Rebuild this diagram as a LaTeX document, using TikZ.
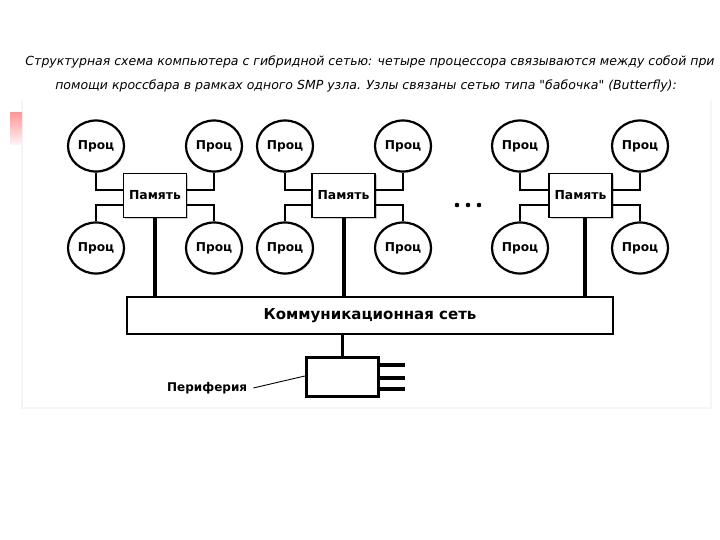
\documentclass[tikz,border=0pt]{standalone}
\usepackage{fontspec}
\setmainfont{DejaVu Sans}
\usetikzlibrary{shapes.geometric,shadows}
\begin{document}
\begin{tikzpicture}[x=1pt,y=-1pt,
  proc/.style={ellipse, draw, line width=2.2pt, minimum width=56pt, minimum height=51pt, inner sep=0pt, fill=white,
    drop shadow={shadow xshift=1.2pt, shadow yshift=-1.2pt, fill=black!35},
    font=\bfseries\fontsize{12.2}{14}\selectfont},
  mem/.style={rectangle, draw, line width=1.8pt, minimum width=63pt, minimum height=44pt, inner sep=0pt, fill=white,
    drop shadow={shadow xshift=1.8pt, shadow yshift=-1.8pt, fill=black!40},
    font=\bfseries\fontsize{12.4}{14}\selectfont},
  netbox/.style={rectangle, draw, line width=1.8pt, minimum width=486pt, minimum height=37pt, inner sep=0pt, fill=white,
    font=\bfseries\fontsize{15}{17}\selectfont},
  perbox/.style={rectangle, draw, line width=3.4pt, minimum width=72pt, minimum height=39pt, inner sep=0pt, fill=white},
  link/.style={line width=1.8pt},
  bus/.style={line width=3.4pt},
  stub/.style={line width=3.2pt},
  titletext/.style={font=\itshape\fontsize{12.5}{15}\selectfont, text=black, inner sep=0pt},
  lbl/.style={font=\bfseries\fontsize{12}{14}\selectfont, inner sep=0pt}
]
\useasboundingbox (0,0) rectangle (720,540);
\fill[white] (0,0) rectangle (720,540);
% faint frame of the pasted picture
\draw[black!4, line width=1.2pt] (22,100) -- (22,408) -- (711,408) -- (711,100);
\shade[top color=red!40, bottom color=red!4] (10,113) rectangle (22,145);

% title
\node[titletext] (t1) at (370,62) {Структурная схема компьютера с гибридной сетью: четыре процессора связываются между собой при};
\node[titletext] (t2) at (366,86) {помощи кроссбара в рамках одного SMP узла. Узлы связаны сетью типа \textquotedbl бабочка\textquotedbl{} (Butterfly):};

% network
\node[netbox] (net) at (370,315.5) {Коммуникационная сеть};

\foreach \i/\xl/\xr/\xm/\xb in {1/96/214/155/155, 2/285/403/343.5/344, 3/520/640/580.5/585} {
  \node[mem] (m\i) at (\xm,195.5) {Память};
  \node[proc] (pa\i) at (\xl,146) {Проц};
  \node[proc] (pb\i) at (\xr,146) {Проц};
  \node[proc] (pc\i) at (\xl,248) {Проц};
  \node[proc] (pd\i) at (\xr,248) {Проц};
  \draw[link] (pa\i.south) |- ([yshift=5.5pt]m\i.west);
  \draw[link] (pc\i.north) |- ([yshift=-9.5pt]m\i.west);
  \draw[link] (pb\i.south) |- ([yshift=5.5pt]m\i.east);
  \draw[link] (pd\i.north) |- ([yshift=-9.5pt]m\i.east);
  \coordinate (b\i) at (\xb,217);
  \draw[bus] (b\i) -- (b\i |- net.north);
}

% dots
\fill (457,205) circle (2.3pt);
\fill (468,205) circle (2.3pt);
\fill (479,205) circle (2.3pt);

% periphery
\node[perbox] (per) at (342.5,377) {};
\draw[bus] (net.south -| per.north) -- (per.north);
\coordinate (s1) at (405,365);
\coordinate (s2) at (405,378);
\coordinate (s3) at (405,389);
\draw[stub] (s1 -| per.east) -- (s1);
\draw[stub] (s2 -| per.east) -- (s2);
\draw[stub] (s3 -| per.east) -- (s3);
\node[lbl, anchor=west] (perlab) at (167,388) {Периферия};
\draw[line width=0.9pt] ([xshift=6pt]perlab.east) -- ([yshift=1pt]per.west);
\end{tikzpicture}
\end{document}
